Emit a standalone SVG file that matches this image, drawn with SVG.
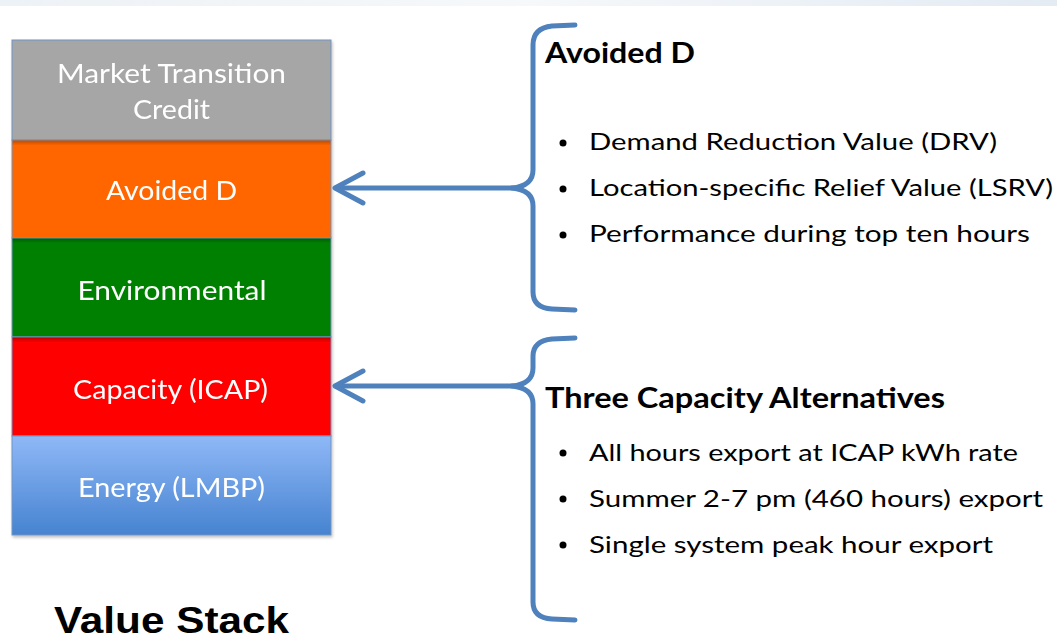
<svg xmlns="http://www.w3.org/2000/svg" width="1057" height="640" viewBox="0 0 1057 640">
  <defs>
    <linearGradient id="band" x1="0" y1="0" x2="1" y2="0">
      <stop offset="0" stop-color="#edf2f6"/>
      <stop offset="0.5" stop-color="#f6f8fa"/>
      <stop offset="1" stop-color="#e3ebf3"/>
    </linearGradient>
    <linearGradient id="energy" x1="0" y1="0" x2="0" y2="1">
      <stop offset="0" stop-color="#8fb8f7"/>
      <stop offset="1" stop-color="#4683d0"/>
    </linearGradient>
    <linearGradient id="edge" x1="0" y1="0" x2="0" y2="1">
      <stop offset="0" stop-color="#000" stop-opacity="0.25"/>
      <stop offset="1" stop-color="#000" stop-opacity="0"/>
    </linearGradient>
    <filter id="shadow" x="-5%" y="-5%" width="110%" height="110%">
      <feDropShadow dx="1" dy="2" stdDeviation="1.5" flood-color="#000" flood-opacity="0.25"/>
    </filter>
  </defs>
  <style>
    .seg { stroke: #6f93c4; stroke-width: 1; }
    .lbl { font-family: Lato, "Open Sans", sans-serif; font-size: 26.5px; fill: #ffffff; text-anchor: middle; }
    .head { font-family: Lato, "Open Sans", sans-serif; font-size: 28px; font-weight: bold; fill: #000; }
    .item { font-family: Lato, "Open Sans", sans-serif; font-size: 23.5px; fill: #000; }
    .dot { fill: #000; }
    .brace { fill: none; stroke: #4f81bd; stroke-width: 5; stroke-linecap: round; stroke-linejoin: round; }
    .title { font-family: "Liberation Sans", Arial, sans-serif; font-size: 36px; font-weight: bold; fill: #000; }
  </style>

  <rect x="0" y="0" width="1057" height="640" fill="#ffffff"/>
  <rect x="0" y="0" width="1057" height="6" fill="url(#band)"/>

  <!-- value stack -->
  <g id="stack" filter="url(#shadow)">
    <g id="mtc">
      <rect class="seg" x="12" y="40" width="319" height="100" fill="#a6a6a6"/>
      <text class="lbl" x="171.5" y="83" textLength="229" lengthAdjust="spacingAndGlyphs">Market Transition</text>
      <text class="lbl" x="171.5" y="119" textLength="77" lengthAdjust="spacingAndGlyphs">Credit</text>
    </g>
    <g id="avoided-d">
      <rect class="seg" x="12" y="140" width="319" height="98" fill="#ff6600"/>
      <rect x="12.5" y="140.5" width="318" height="5" fill="url(#edge)"/>
      <text class="lbl" x="171.5" y="200" textLength="131" lengthAdjust="spacingAndGlyphs">Avoided D</text>
    </g>
    <g id="environmental">
      <rect class="seg" x="12" y="238" width="319" height="99" fill="#008000"/>
      <rect x="12.5" y="238.5" width="318" height="5" fill="url(#edge)"/>
      <text class="lbl" x="172" y="300" textLength="189" lengthAdjust="spacingAndGlyphs">Environmental</text>
    </g>
    <g id="capacity">
      <rect class="seg" x="12" y="337" width="319" height="99" fill="#ff0000"/>
      <rect x="12.5" y="337.5" width="318" height="5" fill="url(#edge)"/>
      <text class="lbl" x="170.5" y="399" textLength="195" lengthAdjust="spacingAndGlyphs">Capacity (ICAP)</text>
    </g>
    <g id="energy-lmbp">
      <rect class="seg" x="12" y="436" width="319" height="99" fill="url(#energy)"/>
      <text class="lbl" x="171.5" y="497" textLength="187" lengthAdjust="spacingAndGlyphs">Energy (LMBP)</text>
    </g>
  </g>

  <!-- braces and arrows -->
  <g id="connectors">
    <path class="brace" d="M575,25 L552,26 Q533,28 533,45 L533,170 Q533,186 512,188 L336,188"/>
    <path class="brace" d="M512,188 Q533,190 533,206 L533,292 Q533,308 552,309 L575,310"/>
    <path class="brace" d="M363,173 L335,188 L363,203"/>
    <path class="brace" d="M575,338 L552,339 Q533,341 533,356 L533,368 Q533,384 512,386 L336,386"/>
    <path class="brace" d="M512,386 Q533,388 533,404 L533,602 Q533,618 552,619 L575,620"/>
    <path class="brace" d="M363,371 L335,386 L363,401"/>
  </g>

  <!-- avoided D details -->
  <g id="avoided-d-notes">
    <text class="head" x="545" y="63" textLength="150" lengthAdjust="spacingAndGlyphs">Avoided D</text>
    <circle class="dot" cx="563" cy="143" r="3.5"/>
    <text class="item" x="589" y="150" textLength="408" lengthAdjust="spacingAndGlyphs">Demand Reduction Value (DRV)</text>
    <circle class="dot" cx="563" cy="189" r="3.5"/>
    <text class="item" x="589" y="196" textLength="464" lengthAdjust="spacingAndGlyphs">Location-specific Relief Value (LSRV)</text>
    <circle class="dot" cx="563" cy="235" r="3.5"/>
    <text class="item" x="589" y="242" textLength="441" lengthAdjust="spacingAndGlyphs">Performance during top ten hours</text>
  </g>

  <!-- capacity details -->
  <g id="capacity-notes">
    <text class="head" x="545" y="408" textLength="400" lengthAdjust="spacingAndGlyphs">Three Capacity Alternatives</text>
    <circle class="dot" cx="563" cy="453" r="3.5"/>
    <text class="item" x="589" y="461" textLength="429" lengthAdjust="spacingAndGlyphs">All hours export at ICAP kWh rate</text>
    <circle class="dot" cx="563" cy="499" r="3.5"/>
    <text class="item" x="589" y="507" textLength="454" lengthAdjust="spacingAndGlyphs">Summer 2-7 pm (460 hours) export</text>
    <circle class="dot" cx="563" cy="545" r="3.5"/>
    <text class="item" x="589" y="553" textLength="404" lengthAdjust="spacingAndGlyphs">Single system peak hour export</text>
  </g>

  <text id="title" class="title" x="54" y="633" textLength="235" lengthAdjust="spacingAndGlyphs">Value Stack</text>
</svg>
